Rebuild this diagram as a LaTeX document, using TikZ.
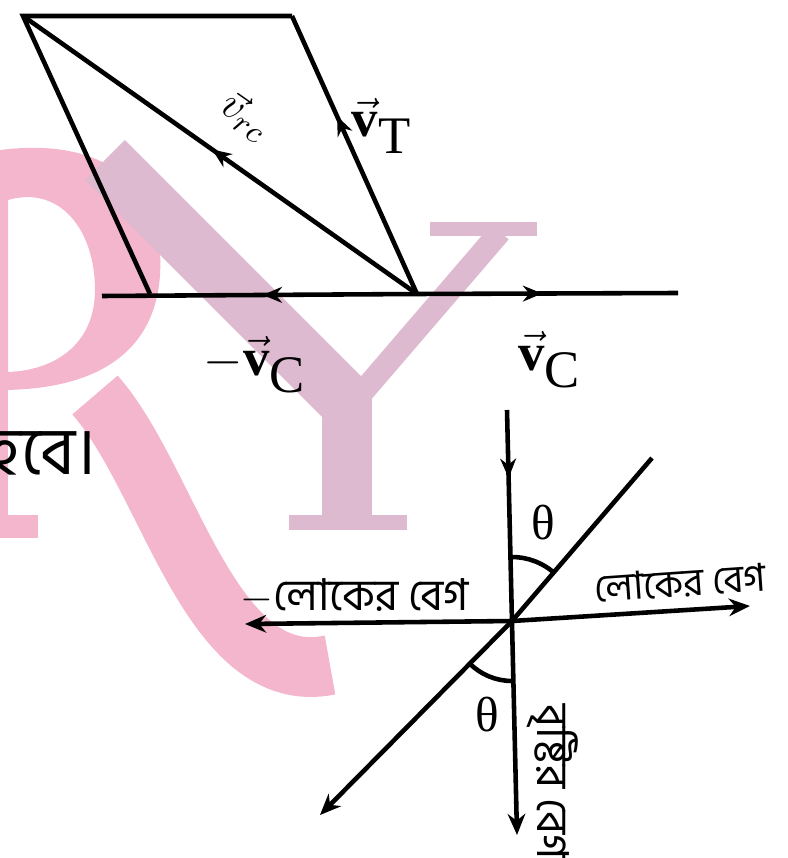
\documentclass[tikz,border=0pt]{standalone}
\usepackage{fontspec}
\setmainfont{Liberation Serif}
\newfontfamily\bnfont[Script=Bengali]{Hind Siliguri}
\usetikzlibrary{arrows.meta,decorations.markings,calc}
\definecolor{wmpink}{RGB}{244,182,204}
\definecolor{wmmauve}{RGB}{222,186,208}

\tikzset{
  vecline/.style={line width=1.3pt},
  midarrow/.style={postaction={decorate,
      decoration={markings, mark=at position #1 with {\arrow{Stealth[length=5.5pt,width=4.5pt]}}}}},
  tip/.style={-{Stealth[length=6pt,width=5pt]}},
  veclbl/.style={font=\fontsize{15}{15}\selectfont, inner sep=0pt},
  bnlbl/.style={font=\bnfont\fontsize{11}{13}\selectfont, inner sep=0pt},
  thlbl/.style={font=\fontsize{14}{14}\selectfont, inner sep=0pt},
}

\begin{document}
\begin{tikzpicture}[x=0.01cm, y=-0.01cm, >=Stealth]
  \useasboundingbox (0,0) rectangle (787,858);

  %% watermark (R and Y)
  \fill[wmpink] (-40,150) rectangle (8,538);
  \fill[wmpink] (-40,515) rectangle (38,538);
  \fill[wmpink, even odd rule]
    (0,150) .. controls (120,135) and (165,200) .. (160,275)
            .. controls (155,350) and (100,390) .. (0,390) -- cycle
    (8,200) .. controls (60,185) and (95,230) .. (95,290)
            .. controls (95,340) and (60,370) .. (8,372) -- cycle;
  \draw[wmpink, line width=17pt] (95,395) .. controls (170,480) and (210,690) .. (330,665);
  \draw[wmmauve, line width=16pt] (105,160) -- (345,400);
  \draw[wmmauve, line width=6.5pt] (360,395) -- (500,232);
  \fill[wmmauve] (430,222) rectangle (537,236);
  \fill[wmmauve] (322,380) rectangle (372,525);
  \fill[wmmauve] (289,515) rectangle (407,530);

  %% parallelogram of velocities
  \coordinate (A) at (23,16);
  \coordinate (B) at (292,16);
  \coordinate (O) at (417,294);
  \coordinate (D) at (150,294);
  \coordinate (L) at (102,296);
  \coordinate (R) at (678,293);

  \draw[vecline] (D) -- (A) -- (B);
  \draw[vecline, midarrow=0.52] (O) -- (A);
  \draw[vecline, midarrow=0.64] (O) -- (B);
  \draw[vecline, midarrow=0.49] (O) -- (L);
  \draw[vecline, midarrow=0.48] (O) -- (R);

  \node[veclbl, font=\fontsize{13}{13}\selectfont, rotate=-35] (vrc) at (246,116) {$\vec{v}_{rc}$};
  \node[veclbl] (vT)  at (382,126) {$\vec{\textbf{v}}_{\textrm{T}}$};
  \node[veclbl] (mvC) at (255,365) {$-\vec{\textbf{v}}_{\textrm{C}}$};
  \node[veclbl] (vC)  at (550,360) {$\vec{\textbf{v}}_{\textrm{C}}$};

  \node[font=\bnfont\fontsize{19}{21}\selectfont, inner sep=0pt, anchor=east] (hobe) at (97,453) {হবে।};

  %% rain and man
  \coordinate (C) at (512,621);
  \coordinate (rtop) at (507,410);
  \coordinate (rbot) at (517,835);
  \coordinate (dtop) at (652,458);
  \coordinate (dbot) at (320,815);
  \coordinate (hl) at (245,624);
  \coordinate (hr) at (750,606);

  \draw[vecline, tip, midarrow=0.16] (rtop) -- (rbot);
  \draw[vecline, tip] (dtop) -- (C) -- (dbot);
  \draw[vecline, tip] (C) -- (hl);
  \draw[vecline, tip] (C) -- (hr);

  \draw[vecline] ($(C)+(0,-64)$) arc[start angle=-90, end angle=-49, radius=64];
  \draw[vecline] ($(C)+(0,60)$) arc[start angle=90, end angle=135, radius=60];

  \node[thlbl] (th1) at (543,523) {θ};
  \node[thlbl] (th2) at (487,715) {θ};

  \node[bnlbl, font=\bnfont\fontsize{12.5}{14}\selectfont] (mlok) at (355,596) {$-$লোকের বেগ};
  \node[bnlbl, rotate=4] (lok) at (680,583) {লোকের বেগ};
  \node[bnlbl, font=\bnfont\fontsize{12.5}{14}\selectfont, rotate=-90] (rain) at (553,782) {বৃষ্টির বেগ};
\end{tikzpicture}
\end{document}
